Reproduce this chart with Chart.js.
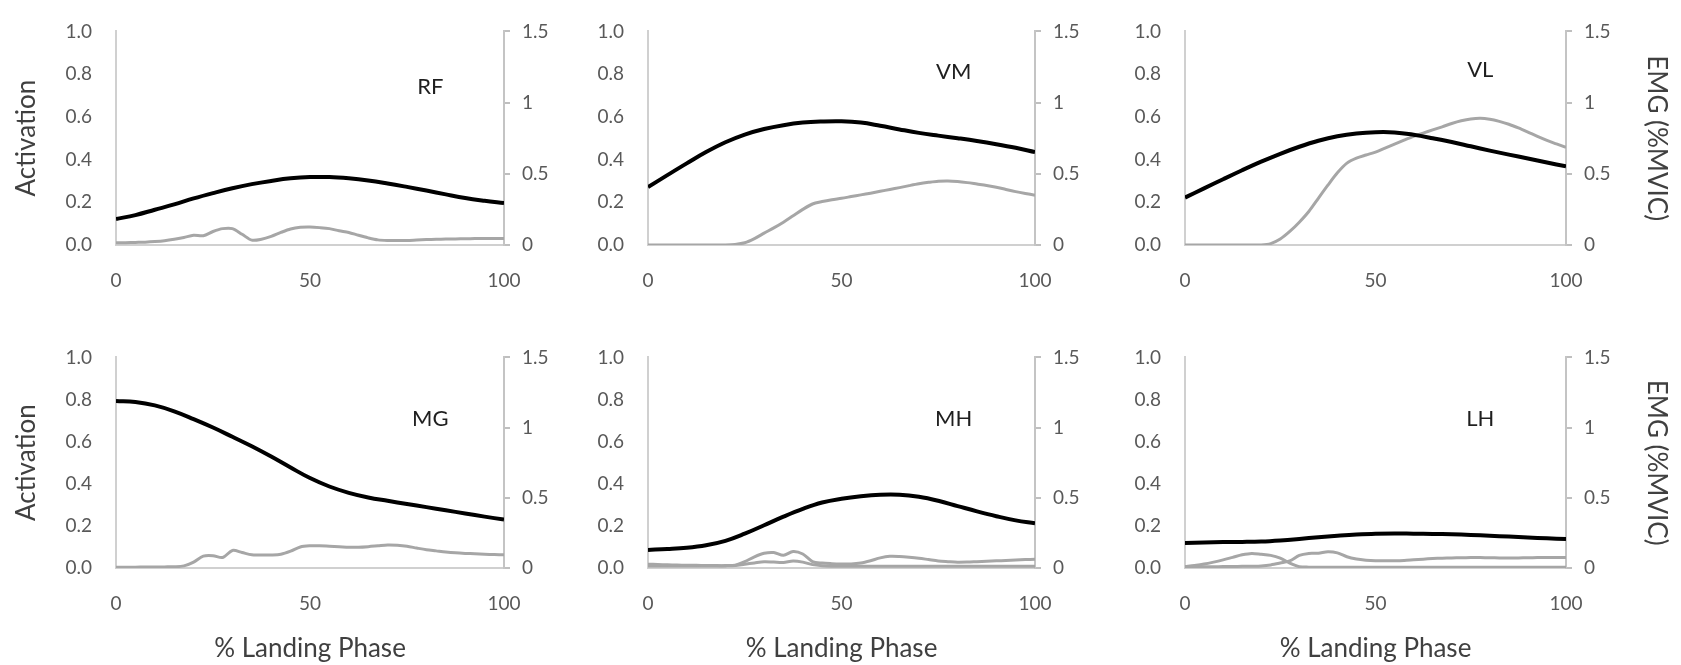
<!DOCTYPE html>
<html>
<head>
<meta charset="utf-8">
<script src="https://cdn.jsdelivr.net/npm/chart.js@4.4.1/dist/chart.umd.min.js"></script>
<style>
  html, body { margin: 0; padding: 0; background: #fff; }
  body { width: 1681px; height: 665px; position: relative; overflow: hidden; }
  canvas { position: absolute; }
</style>
</head>
<body>
<script>
// % landing phase sample points
const actPhase = [0, 5, 10, 15, 20, 25, 30, 35, 40, 45, 50, 55, 60, 65, 70, 75, 80, 85, 90, 95, 100];
const emgPhase = [0, 2.5, 5, 7.5, 10, 12.5, 15, 17.5, 20, 22.5, 25, 27.5, 30, 32.5, 35, 37.5, 40, 42.5, 45, 47.5,
    50, 52.5, 55, 57.5, 60, 62.5, 65, 67.5, 70, 72.5, 75, 77.5, 80, 82.5, 85, 87.5, 90, 92.5, 95, 97.5, 100];

// Simulated activation (left axis)
const rfAct = [0.122, 0.14, 0.165, 0.19, 0.218, 0.243, 0.266, 0.285, 0.300, 0.312, 0.318, 0.318, 0.312, 0.302, 0.288, 0.272, 0.255, 0.237, 0.22, 0.207, 0.196];
const vmAct = [0.271, 0.327, 0.382, 0.435, 0.481, 0.517, 0.543, 0.561, 0.573, 0.578, 0.579, 0.573, 0.558, 0.541, 0.525, 0.512, 0.5, 0.487, 0.472, 0.455, 0.435];
const vlAct = [0.222, 0.265, 0.308, 0.35, 0.39, 0.427, 0.46, 0.488, 0.509, 0.522, 0.528, 0.527, 0.516, 0.5, 0.482, 0.462, 0.442, 0.423, 0.405, 0.386, 0.368];
const mgAct = [0.793, 0.788, 0.772, 0.744, 0.707, 0.667, 0.623, 0.578, 0.529, 0.477, 0.427, 0.387, 0.357, 0.335, 0.319, 0.304, 0.289, 0.274, 0.259, 0.244, 0.23];
const mhAct = [0.086, 0.09, 0.096, 0.108, 0.129, 0.163, 0.203, 0.244, 0.281, 0.311, 0.329, 0.341, 0.348, 0.348, 0.338, 0.319, 0.294, 0.269, 0.246, 0.226, 0.212];
const lhAct = [0.119, 0.121, 0.123, 0.124, 0.126, 0.131, 0.138, 0.146, 0.153, 0.159, 0.163, 0.164, 0.163, 0.162, 0.16, 0.157, 0.153, 0.149, 0.145, 0.141, 0.138];

// Measured EMG (right axis, %MVIC)
const rfEmg = [0.015, 0.016, 0.018, 0.02, 0.024, 0.03, 0.04, 0.053, 0.068, 0.065, 0.095, 0.115, 0.115, 0.075, 0.034, 0.04,
    0.06, 0.088, 0.112, 0.124, 0.126, 0.122, 0.115, 0.1, 0.088, 0.068, 0.05, 0.036, 0.032, 0.032, 0.032, 0.035, 0.038,
    0.04, 0.042, 0.043, 0.044, 0.045, 0.045, 0.045, 0.045];
const vmEmg = [0, 0, 0, 0, 0, 0, 0, 0, 0, 0.004, 0.016, 0.045, 0.083, 0.12, 0.16, 0.205, 0.25, 0.288, 0.305, 0.318,
    0.328, 0.34, 0.352, 0.364, 0.377, 0.39, 0.403, 0.417, 0.43, 0.44, 0.448, 0.45, 0.446, 0.438, 0.428, 0.418, 0.406,
    0.39, 0.375, 0.362, 0.35];
const vlEmg = [0, 0, 0, 0, 0, 0, 0, 0, 0, 0.01, 0.042, 0.095, 0.16, 0.235, 0.328, 0.42, 0.507, 0.575, 0.61, 0.632,
    0.652, 0.68, 0.708, 0.736, 0.763, 0.786, 0.808, 0.83, 0.853, 0.872, 0.885, 0.89, 0.883, 0.868, 0.848, 0.822, 0.793,
    0.763, 0.735, 0.71, 0.685];
const mgEmg = [0.006, 0.006, 0.006, 0.007, 0.007, 0.008, 0.009, 0.015, 0.042, 0.085, 0.088, 0.075, 0.125, 0.11, 0.094,
    0.093, 0.093, 0.098, 0.12, 0.15, 0.158, 0.158, 0.155, 0.152, 0.148, 0.148, 0.152, 0.158, 0.164, 0.162, 0.155, 0.142,
    0.13, 0.122, 0.114, 0.108, 0.104, 0.101, 0.098, 0.096, 0.094];
const mhEmgA = [0.027, 0.025, 0.023, 0.021, 0.02, 0.019, 0.018, 0.017, 0.017, 0.02, 0.045, 0.08, 0.105, 0.11, 0.09,
    0.118, 0.1, 0.046, 0.035, 0.031, 0.029, 0.029, 0.036, 0.052, 0.072, 0.083, 0.082, 0.077, 0.07, 0.06, 0.05, 0.045,
    0.041, 0.042, 0.045, 0.048, 0.051, 0.054, 0.057, 0.06, 0.062];
const mhEmgB = [0.015, 0.015, 0.015, 0.015, 0.015, 0.015, 0.015, 0.015, 0.015, 0.017, 0.027, 0.036, 0.044, 0.042, 0.04,
    0.05, 0.042, 0.024, 0.016, 0.013, 0.012, 0.012, 0.012, 0.012, 0.012, 0.012, 0.012, 0.012, 0.012, 0.012, 0.012,
    0.012, 0.012, 0.012, 0.012, 0.012, 0.012, 0.012, 0.012, 0.012, 0.012];
const lhEmgA = [0.01, 0.018, 0.028, 0.042, 0.058, 0.076, 0.094, 0.104, 0.098, 0.09, 0.07, 0.035, 0.01, 0.006, 0.005,
    0.005, 0.005, 0.005, 0.005, 0.005, 0.005, 0.005, 0.005, 0.005, 0.005, 0.005, 0.005, 0.005, 0.005, 0.005, 0.005,
    0.005, 0.005, 0.005, 0.005, 0.005, 0.005, 0.005, 0.005, 0.005, 0.005];
const lhEmgB = [0.008, 0.008, 0.009, 0.009, 0.01, 0.011, 0.012, 0.013, 0.015, 0.022, 0.035, 0.05, 0.09, 0.104, 0.105,
    0.116, 0.108, 0.08, 0.064, 0.056, 0.052, 0.051, 0.051, 0.053, 0.058, 0.063, 0.067, 0.07, 0.072, 0.073, 0.074,
    0.074, 0.073, 0.072, 0.071, 0.072, 0.073, 0.074, 0.075, 0.075, 0.075];

// Layout of the six plot areas (page pixels)
const COLS = [{ left: 116, width: 388 }, { left: 648, width: 387 }, { left: 1185, width: 381 }];
const ROWS = [{ top: 21, height: 224 }, { top: 347, height: 221 }];
const SIDE = 110;     // room for each y axis
const TOPPAD = 25;
const BOTTOM = 100;   // room for x ticks + title

const FONT = 'Lato, "Noto Sans", sans-serif';
const TICK_COLOR = '#595959';
const TITLE_COLOR = '#404040';
const AXIS_COLOR = '#d0d0d0';

const panels = [
    { name: 'RF', act: rfAct, emg: [rfEmg], col: 0, row: 0, labelAt: [81, 0.74] },
    { name: 'VM', act: vmAct, emg: [vmEmg], col: 1, row: 0, labelAt: [79, 0.81] },
    { name: 'VL', act: vlAct, emg: [vlEmg], col: 2, row: 0, labelAt: [77.5, 0.82] },
    { name: 'MG', act: mgAct, emg: [mgEmg], col: 0, row: 1, labelAt: [81, 0.71] },
    { name: 'MH', act: mhAct, emg: [mhEmgA, mhEmgB], col: 1, row: 1, labelAt: [79, 0.71] },
    { name: 'LH', act: lhAct, emg: [lhEmgA, lhEmgB], col: 2, row: 1, labelAt: [77.5, 0.71] }
];

// draws the muscle name inside each plot
const panelLabel = {
    id: 'panelLabel',
    afterDatasetsDraw(chart, args, opts) {
        const { ctx, scales } = chart;
        ctx.save();
        ctx.font = '22px ' + FONT;
        ctx.fillStyle = '#1f1f1f';
        ctx.textAlign = 'center';
        ctx.textBaseline = 'middle';
        ctx.fillText(opts.text, scales.x.getPixelForValue(opts.at[0]), scales.y.getPixelForValue(opts.at[1]));
        ctx.restore();
    }
};

function makePanel(p) {
    const col = COLS[p.col];
    const row = ROWS[p.row];
    const canvas = document.createElement('canvas');
    canvas.width = col.width + 2 * SIDE;
    canvas.height = row.height + TOPPAD + BOTTOM;
    canvas.style.left = (col.left - SIDE) + 'px';
    canvas.style.top = (row.top - TOPPAD) + 'px';
    document.body.appendChild(canvas);

    const datasets = [{
        data: actPhase.map((x, i) => ({ x, y: p.act[i] })),
        yAxisID: 'y',
        borderColor: '#000',
        borderWidth: 4,
        tension: 0.4
    }];
    p.emg.forEach(series => {
        datasets.push({
            data: emgPhase.map((x, i) => ({ x, y: series[i] })),
            yAxisID: 'y1',
            borderColor: '#a6a6a6',
            borderWidth: 3,
            tension: 0.3
        });
    });

    new Chart(canvas, {
        type: 'line',
        data: { datasets },
        options: {
            responsive: false,
            animation: false,
            events: [],
            layout: { padding: { top: TOPPAD, left: 0, right: 0, bottom: 0 } },
            elements: { point: { radius: 0 } },
            plugins: {
                legend: { display: false },
                tooltip: { enabled: false },
                panelLabel: { text: p.name, at: p.labelAt }
            },
            scales: {
                x: {
                    type: 'linear',
                    min: 0,
                    max: 100,
                    afterFit: s => { s.height = BOTTOM; },
                    grid: { display: false, drawTicks: false },
                    border: { display: true, color: AXIS_COLOR, width: 2 },
                    ticks: { stepSize: 50, padding: 24, maxRotation: 0, color: TICK_COLOR, font: { family: FONT, size: 19 } },
                    title: {
                        display: p.row === 1,
                        text: '% Landing Phase',
                        color: TITLE_COLOR,
                        padding: { top: 4, bottom: 4 },
                        font: { family: FONT, size: 26 }
                    }
                },
                y: {
                    position: 'left',
                    min: 0,
                    max: 1,
                    afterFit: s => { s.width = SIDE; },
                    grid: { display: false, drawTicks: false },
                    border: { display: true, color: AXIS_COLOR, width: 2 },
                    ticks: {
                        stepSize: 0.2,
                        padding: 24,
                        color: TICK_COLOR,
                        font: { family: FONT, size: 19 },
                        callback: v => v.toFixed(1)
                    },
                    title: {
                        display: p.col === 0,
                        text: 'Activation',
                        color: TITLE_COLOR,
                        padding: { top: 5, bottom: 4 },
                        font: { family: FONT, size: 26 }
                    }
                },
                y1: {
                    position: 'right',
                    min: 0,
                    max: 1.5,
                    afterFit: s => { s.width = SIDE; },
                    grid: { display: true, drawOnChartArea: false, drawTicks: true, tickLength: 6, color: '#bfbfbf', lineWidth: 2 },
                    border: { display: true, color: '#c4c4c4', width: 2 },
                    ticks: {
                        stepSize: 0.5,
                        padding: 12,
                        color: TICK_COLOR,
                        font: { family: FONT, size: 19 },
                        callback: v => String(v)
                    },
                    title: {
                        display: p.col === 2,
                        text: 'EMG (%MVIC)',
                        color: TITLE_COLOR,
                        padding: { top: 4, bottom: 4 },
                        font: { family: FONT, size: 26 }
                    }
                }
            }
        },
        plugins: [panelLabel]
    });
}

panels.forEach(makePanel);
</script>
</body>
</html>
